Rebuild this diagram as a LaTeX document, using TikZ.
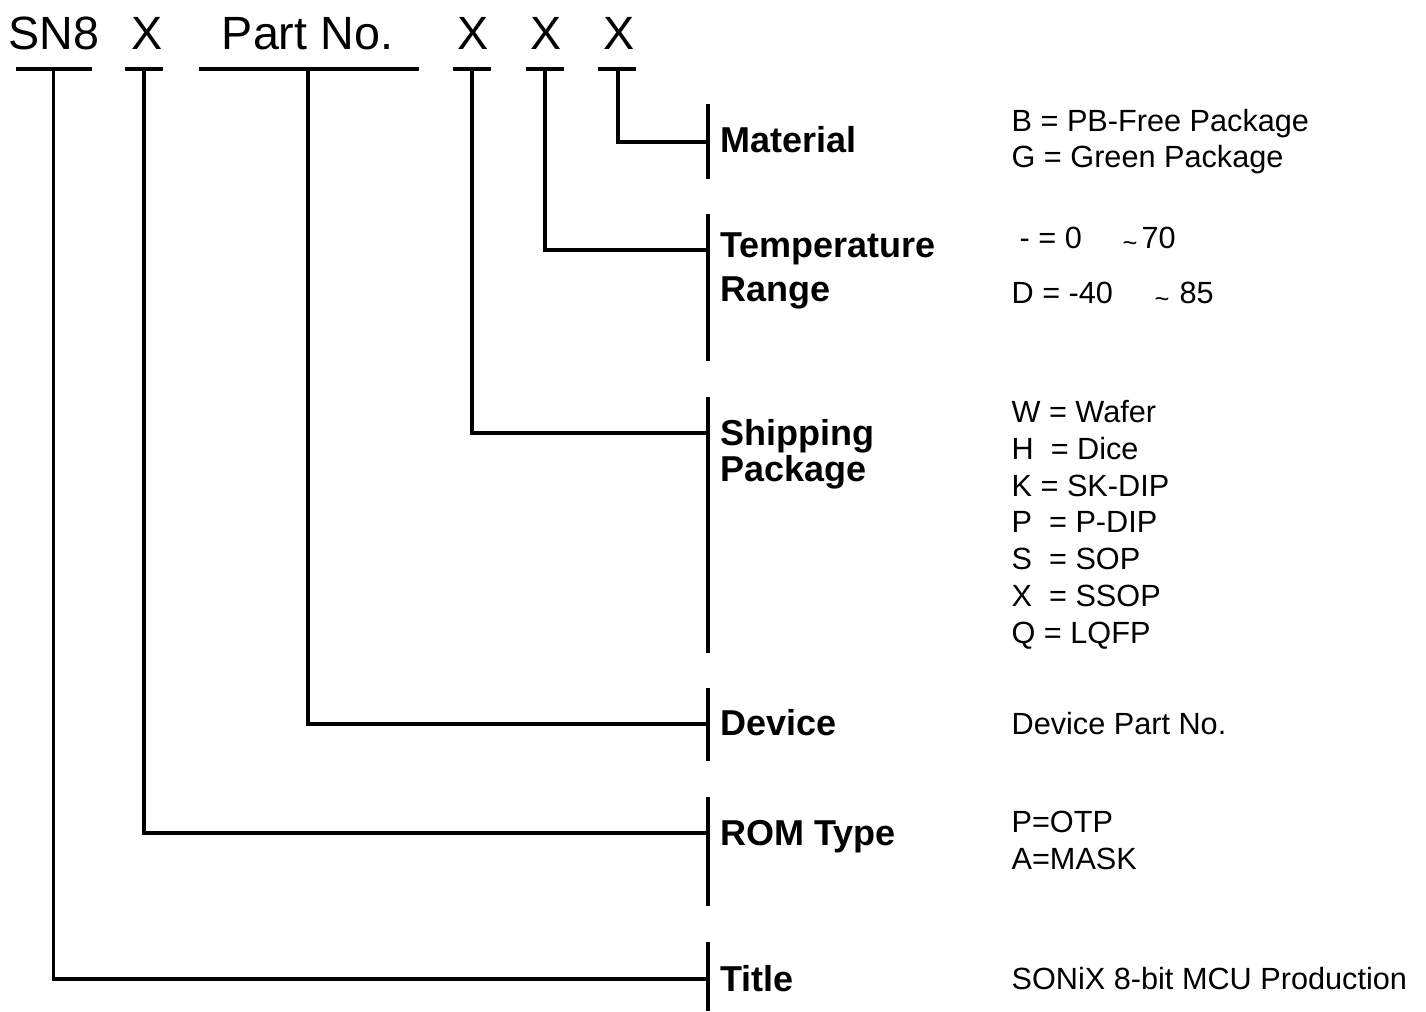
\documentclass[tikz,border=0pt]{standalone}
\usepackage{fontspec}
\setmainfont{Liberation Sans}
\begin{document}
\begin{tikzpicture}[x=0.75pt,y=-0.75pt,line width=2.4pt,
  toptext/.style={font=\fontsize{35}{40}\selectfont,anchor=base,inner sep=0pt},
  lbl/.style={font=\bfseries\fontsize{27}{32}\selectfont,anchor=base west,inner sep=0pt},
  desc/.style={font=\fontsize{23}{27}\selectfont,anchor=base west,inner sep=0pt},
  tilde/.style={font=\fontsize{19}{22}\selectfont,anchor=base west,inner sep=0pt}]
\useasboundingbox (0,0) rectangle (1426,1012);
% top code
\node[toptext] (sn8) at (54,50) {SN8};
\node[toptext] (xa) at (147,50) {X};
\node[toptext] (part) at (307.5,50) {Part No.};
\node[toptext] (xb) at (473,50) {X};
\node[toptext] (xc) at (546,50) {X};
\node[toptext] (xd) at (619,50) {X};
% underlines
\draw (15.5,69) -- (91.5,69);
\draw (125,69) -- (163,69);
\draw (198.5,69) -- (418.5,69);
\draw (453,69) -- (491,69);
\draw (526,69) -- (564,69);
\draw (598,69) -- (636,69);
\coordinate (usn8) at (53.6,69);
\coordinate (uxa) at (144,69);
\coordinate (upart) at (308,69);
\coordinate (uxb) at (472,69);
\coordinate (uxc) at (545,69);
\coordinate (uxd) at (618,69);
% bars
\draw (708,104) -- (708,179);
\draw (708,214) -- (708,361);
\draw (708,397) -- (708,653);
\draw (708,688) -- (708,761);
\draw (708,797) -- (708,906);
\draw (708,942) -- (708,1011);
\coordinate (jmat) at (708,142);
\coordinate (jtemp) at (708,250);
\coordinate (jship) at (708,433);
\coordinate (jdev) at (708,724);
\coordinate (jrom) at (708,833);
\coordinate (jtitle) at (708,979);
% connectors
\draw (uxd) |- (jmat);
\draw (uxc) |- (jtemp);
\draw (uxb) |- (jship);
\draw (upart) |- (jdev);
\draw (uxa) |- (jrom);
\draw (usn8) |- (jtitle);
% labels
\node[lbl] (lmat) at (719,153) {Material};
\node[lbl] (ltemp) at (719,258) {Temperature};
\node[lbl] (lrange) at (719,301) {Range};
\node[lbl] (lship) at (719,445) {Shipping};
\node[lbl] (lpack) at (719,481) {Package};
\node[lbl] (ldev) at (719,735) {Device};
\node[lbl] (lrom) at (719,845) {ROM Type};
\node[lbl] (ltitle) at (719,991) {Title};
% descriptions
\node[desc] (d1) at (1010,132) {B = PB-Free Package};
\node[desc] (d2) at (1010,168) {G = Green Package};
\node[desc] (t1a) at (1018,249) {- = 0};
\node[tilde] (t1t) at (1121,252) {\textasciitilde};
\node[desc] (t1b) at (1140,249) {70};
\node[desc] (t2a) at (1010,304) {D = -40};
\node[tilde] (t2t) at (1153,307) {\textasciitilde};
\node[desc] (t2b) at (1178,304) {85};
\node[desc] (s1) at (1010,422) {W = Wafer};
\node[desc] (s2) at (1010,459) {H~ = Dice};
\node[desc] (s3) at (1010,496) {K = SK-DIP};
\node[desc] (s4) at (1010,532) {P~ = P-DIP};
\node[desc] (s5) at (1010,569) {S~ = SOP};
\node[desc] (s6) at (1010,606) {X~ = SSOP};
\node[desc] (s7) at (1010,643) {Q = LQFP};
\node[desc] (dv) at (1010,734) {Device Part No.};
\node[desc] (r1) at (1010,832) {P=OTP};
\node[desc] (r2) at (1010,869) {A=MASK};
\node[desc] (ti) at (1010,989) {SONiX 8-bit MCU Production};
\end{tikzpicture}
\end{document}
